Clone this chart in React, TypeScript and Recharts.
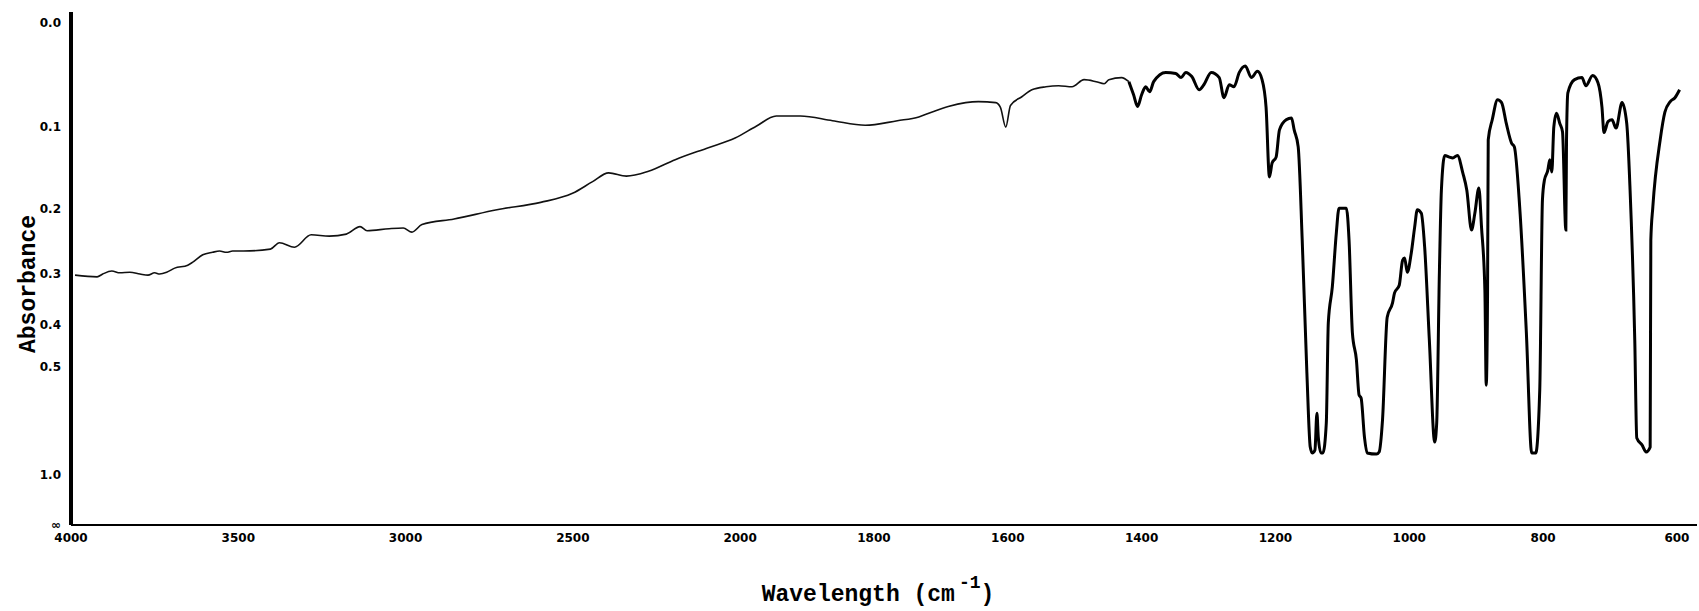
import React from 'react';
import { LineChart, Line, XAxis, YAxis } from 'recharts';

// ---- data (wavenumber in cm-1, absorbance) ----
const surveyWavenumbers = [
  3988, 3922, 3905, 3878, 3854, 3824, 3794, 3770, 3750, 3735, 3714, 3690, 3651, 3636, 3606, 3577, 3556, 3535, 3517, 3484,
  3404, 3377, 3332, 3282, 3228, 3177, 3136, 3115, 3049, 3007, 2981, 2951, 2855, 2727, 2596, 2501, 2441, 2393, 2340, 2274,
  2194, 2095, 2015, 1976, 1946, 1910, 1862, 1813, 1765, 1733, 1714, 1689, 1663, 1644, 1618, 1611, 1603, 1596, 1579, 1564,
  1543, 1524, 1504, 1486, 1468, 1456, 1449, 1430, 1419,
];
const surveyAbsorbance = [
  0.303, 0.306, 0.301, 0.296, 0.299, 0.298, 0.301, 0.303, 0.299, 0.301, 0.298, 0.291, 0.286, 0.281, 0.269, 0.265, 0.263, 0.265, 0.263, 0.263,
  0.26, 0.25, 0.257, 0.238, 0.24, 0.237, 0.226, 0.232, 0.229, 0.228, 0.234, 0.223, 0.215, 0.202, 0.192, 0.18, 0.165, 0.154, 0.158, 0.152,
  0.138, 0.124, 0.113, 0.1, 0.089, 0.089, 0.094, 0.099, 0.094, 0.09, 0.085, 0.079, 0.075, 0.074, 0.075, 0.08, 0.101, 0.078, 0.069, 0.062,
  0.059, 0.058, 0.059, 0.052, 0.054, 0.056, 0.052, 0.05, 0.054,
];
const fingerprintWavenumbers = [
  1419, 1412, 1406, 1400, 1394, 1388, 1382, 1364, 1349, 1341, 1334, 1325, 1314, 1307, 1296, 1284, 1277, 1269, 1262, 1254,
  1245, 1236, 1227, 1220, 1214, 1209, 1205, 1199, 1194, 1184, 1176, 1172, 1166, 1160, 1153, 1148, 1145, 1141, 1138, 1136,
  1132, 1129, 1124, 1121, 1115, 1109, 1105, 1094, 1090, 1085, 1079, 1075, 1072, 1067, 1063, 1049, 1045, 1040, 1033, 1025,
  1022, 1015, 1010, 1007, 1003, 997, 992, 988, 982, 977, 970, 962, 959, 955, 952, 947, 940, 935, 928, 920,
  914, 907, 902, 896, 892, 887, 885, 883, 882, 876, 868, 862, 855, 847, 843, 835, 825, 817, 811, 805,
  801, 798, 793, 790, 787, 784, 780, 775, 771, 766, 765, 763, 753, 742, 736, 726, 718, 712, 709, 703,
  697, 691, 682, 675, 670, 663, 660, 652, 646, 640, 639, 636, 625, 618, 610, 603, 596,
];
const fingerprintAbsorbance = [
  0.054, 0.067, 0.079, 0.067, 0.059, 0.064, 0.054, 0.045, 0.046, 0.05, 0.045, 0.049, 0.062, 0.057, 0.045, 0.05, 0.07, 0.057, 0.059, 0.045,
  0.039, 0.05, 0.044, 0.052, 0.08, 0.159, 0.142, 0.135, 0.104, 0.093, 0.091, 0.104, 0.123, 0.246, 0.519, 0.809, 0.843, 0.826, 0.652, 0.756,
  0.843, 0.843, 0.692, 0.395, 0.324, 0.235, 0.2, 0.2, 0.246, 0.417, 0.483, 0.587, 0.597, 0.756, 0.843, 0.85, 0.837, 0.68, 0.383, 0.354,
  0.335, 0.321, 0.278, 0.274, 0.298, 0.266, 0.227, 0.202, 0.207, 0.257, 0.434, 0.782, 0.692, 0.299, 0.176, 0.133, 0.135, 0.136, 0.133, 0.154,
  0.176, 0.231, 0.207, 0.173, 0.227, 0.33, 0.555, 0.335, 0.115, 0.093, 0.072, 0.075, 0.097, 0.119, 0.123, 0.198, 0.417, 0.843, 0.843, 0.57,
  0.189, 0.163, 0.151, 0.138, 0.153, 0.101, 0.086, 0.097, 0.106, 0.231, 0.115, 0.065, 0.052, 0.05, 0.058, 0.048, 0.055, 0.08, 0.107, 0.095,
  0.093, 0.102, 0.075, 0.097, 0.176, 0.434, 0.761, 0.798, 0.837, 0.809, 0.246, 0.198, 0.115, 0.085, 0.074, 0.07, 0.062,
];

const xTickWavenumbers = [4000, 3500, 3000, 2500, 2000, 1800, 1600, 1400, 1200, 1000, 800, 600];
const yTickAbsorbance = [0, 0.1, 0.2, 0.3, 0.4, 0.5, 1.0, Infinity];
const yTickLabels = ['0.0', '0.1', '0.2', '0.3', '0.4', '0.5', '1.0', '\u221E'];

// chart-paper abscissa: 4000-2000 cm-1 is drawn at half the scale of 2000-400 cm-1
const toPos = (w: number) => (w >= 2000 ? (4000 - w) / 2 : 1000 + (2000 - w));
// ordinate is linear in transmittance, labelled in absorbance
const toT = (a: number) => (a === Infinity ? 0 : Math.pow(10, -a));

const data = [
  ...surveyWavenumbers.map((w, i) => ({ pos: toPos(w), survey: toT(surveyAbsorbance[i]), fingerprint: null as number | null })),
  ...fingerprintWavenumbers.map((w, i) => ({ pos: toPos(w), survey: null as number | null, fingerprint: toT(fingerprintAbsorbance[i]) })),
];

const xTicks = xTickWavenumbers.map(toPos);
const yTicks = yTickAbsorbance.map(toT);

const fmtX = (v: number) => {
  const w = xTickWavenumbers.find((t) => Math.abs(toPos(t) - v) < 1e-6);
  return w === undefined ? '' : String(w);
};
const fmtY = (v: number) => {
  const i = yTicks.findIndex((t) => Math.abs(t - v) < 1e-9);
  return i < 0 ? '' : yTickLabels[i];
};

const titleFont = "'Liberation Mono', 'DejaVu Sans Mono', monospace";
const tickFont = "'DejaVu Sans', sans-serif";

const YTitle = () => (
  <text
    x={29}
    y={284}
    transform="rotate(-90 29 284)"
    textAnchor="middle"
    dominantBaseline="central"
    fontFamily={titleFont}
    fontWeight="bold"
    fontSize={23}
    fill="#000"
  >
    Absorbance
  </text>
);

const XTitle = () => (
  <text x={878} y={601} textAnchor="middle" fontFamily={titleFont} fontWeight="bold" fontSize={23} fill="#000">
    Wavelength (cm
    <tspan dx={4} dy={-13} fontSize={18}>-1</tspan>
    <tspan dy={13}>)</tspan>
  </text>
);

export default function App() {
  return (
    <div style={{ position: 'absolute', left: 0, top: 0, width: 1699, height: 611, background: '#fff' }}>
      <LineChart width={1699} height={611} data={data} margin={{ top: 12, right: 2, bottom: 0, left: 0 }}>
        <XAxis
          dataKey="pos"
          type="number"
          domain={[0, 2430]}
          ticks={xTicks}
          interval={0}
          tickFormatter={fmtX}
          height={86}
          tickLine={false}
          tickSize={0}
          tickMargin={8}
          axisLine={{ stroke: '#000', strokeWidth: 2 }}
          tick={{ fill: '#000', fontFamily: tickFont, fontWeight: 'bold', fontSize: 12 }}
          label={<XTitle />}
        />
        <YAxis
          type="number"
          domain={[0, 1.0219]}
          ticks={yTicks}
          interval={0}
          tickFormatter={fmtY}
          width={71}
          tickLine={false}
          tickSize={0}
          tickMargin={10}
          axisLine={{ stroke: '#000', strokeWidth: 4 }}
          tick={{ fill: '#000', fontFamily: tickFont, fontWeight: 'bold', fontSize: 12 }}
          label={<YTitle />}
        />
        <Line
          dataKey="survey"
          type="monotone"
          stroke="#111"
          strokeWidth={1.6}
          dot={false}
          activeDot={false}
          connectNulls={false}
          isAnimationActive={false}
        />
        <Line
          dataKey="fingerprint"
          type="monotone"
          stroke="#000"
          strokeWidth={3}
          dot={false}
          activeDot={false}
          connectNulls={false}
          isAnimationActive={false}
        />
      </LineChart>
    </div>
  );
}
